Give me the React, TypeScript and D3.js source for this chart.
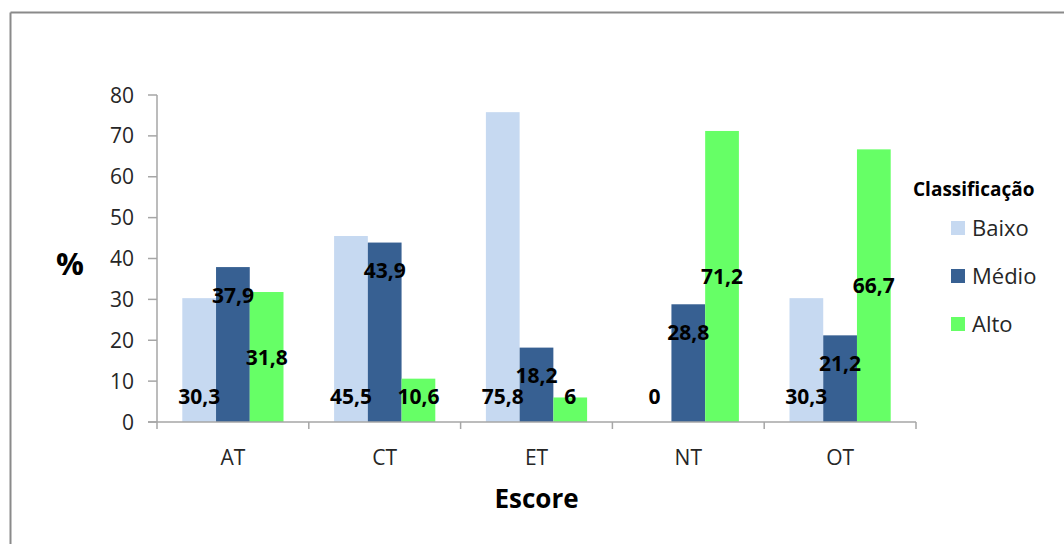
import React from "react";
import * as d3 from "d3";

const categories = ["AT", "CT", "ET", "NT", "OT"];
const seriesNames = ["Baixo", "Médio", "Alto"];
const baixo = [30.3, 45.5, 75.8, 0, 30.3];
const medio = [37.9, 43.9, 18.2, 28.8, 21.2];
const alto = [31.8, 10.6, 6, 71.2, 66.7];
const yTicks = [0, 10, 20, 30, 40, 50, 60, 70, 80];
const colors = ["#c6d9f1", "#376092", "#66ff66"];

const W = 1064, H = 544;
const FONT = "'Open Sans', 'Noto Sans', sans-serif";

export default function App() {
  const series = [baixo, medio, alto];
  const x = d3.scaleBand<string>().domain(categories).range([157, 916]).paddingInner(0).paddingOuter(0);
  const inner = d3.scaleBand<string>().domain(seriesNames).range([0, x.bandwidth()]).paddingOuter(0.75).paddingInner(0);
  const y = d3.scaleLinear().domain([0, 80]).range([422, 95]);
  const axisColor = "#a6a6a6";
  const fmt = (v: number) => String(v).replace(".", ",");
  const baseLabelY = y(0) - 26;

  const labelY = (si: number, v: number) => {
    if (si === 0) return baseLabelY;
    if (si === 1) return y(v) + 28;
    return Math.min((y(v) + y(0)) / 2, baseLabelY);
  };

  return (
    <div style={{ position: "fixed", left: 0, top: 0 }}>
      <svg width={W} height={H} style={{ display: "block", background: "#fff" }}>
        {/* frame */}
        <line x1={10.5} y1={12.5} x2={W} y2={12.5} stroke="#8a8a8a" strokeWidth={2} />
        <line x1={10.5} y1={12.5} x2={10.5} y2={H} stroke="#8a8a8a" strokeWidth={2} />

        {/* bars */}
        {series.map((vals, si) =>
          vals.map((v, ci) => (
            <rect
              key={`b${si}-${ci}`}
              x={(x(categories[ci]) as number) + (inner(seriesNames[si]) as number)}
              y={y(v)}
              width={inner.bandwidth()}
              height={y(0) - y(v)}
              fill={colors[si]}
            />
          ))
        )}

        {/* y axis */}
        <line x1={157} y1={y(80)} x2={157} y2={y(0)} stroke={axisColor} strokeWidth={1.5} />
        {yTicks.map((t) => (
          <g key={`yt${t}`}>
            <line x1={148} x2={157} y1={y(t)} y2={y(t)} stroke={axisColor} strokeWidth={1.5} />
            <text x={134} y={y(t) + 7.5} textAnchor="end" fontFamily={FONT} fontSize={21} fill="#262626">
              {t}
            </text>
          </g>
        ))}

        {/* x axis */}
        <line x1={148} y1={y(0)} x2={916} y2={y(0)} stroke={axisColor} strokeWidth={1.5} />
        {categories.map((c) => (
          <line key={`xt${c}`} x1={x(c) as number} x2={x(c) as number} y1={y(0)} y2={y(0) + 7} stroke={axisColor} strokeWidth={1.5} />
        ))}
        <line x1={916} x2={916} y1={y(0)} y2={y(0) + 7} stroke={axisColor} strokeWidth={1.5} />
        {categories.map((c) => (
          <text key={`xl${c}`} x={(x(c) as number) + x.bandwidth() / 2} y={465} textAnchor="middle" fontFamily={FONT} fontSize={21} fill="#262626">
            {c}
          </text>
        ))}

        {/* data labels */}
        {series.map((vals, si) =>
          vals.map((v, ci) => (
            <text
              key={`l${si}-${ci}`}
              x={(x(categories[ci]) as number) + (inner(seriesNames[si]) as number) + inner.bandwidth() / 2}
              y={labelY(si, v) + 7.5}
              textAnchor="middle"
              fontFamily={FONT}
              fontWeight="bold"
              fontSize={21}
              fill="#000"
            >
              {fmt(v)}
            </text>
          ))
        )}

        {/* axis titles */}
        <text x={536.5} y={508} textAnchor="middle" fontFamily={FONT} fontWeight="bold" fontSize={26} fill="#000">
          Escore
        </text>
        <text x={70} y={275} textAnchor="middle" fontFamily={FONT} fontWeight="bold" fontSize={31} fill="#000">
          %
        </text>

        {/* legend */}
        <text x={913} y={196} fontFamily={FONT} fontWeight="bold" fontSize={19} fill="#000">
          Classificação
        </text>
        {seriesNames.map((s, i) => (
          <g key={`lg${s}`}>
            <rect x={951} y={221 + i * 48} width={14} height={14} fill={colors[i]} />
            <text x={972} y={236 + i * 48} fontFamily={FONT} fontSize={22} fill="#262626">
              {s}
            </text>
          </g>
        ))}
      </svg>
    </div>
  );
}
